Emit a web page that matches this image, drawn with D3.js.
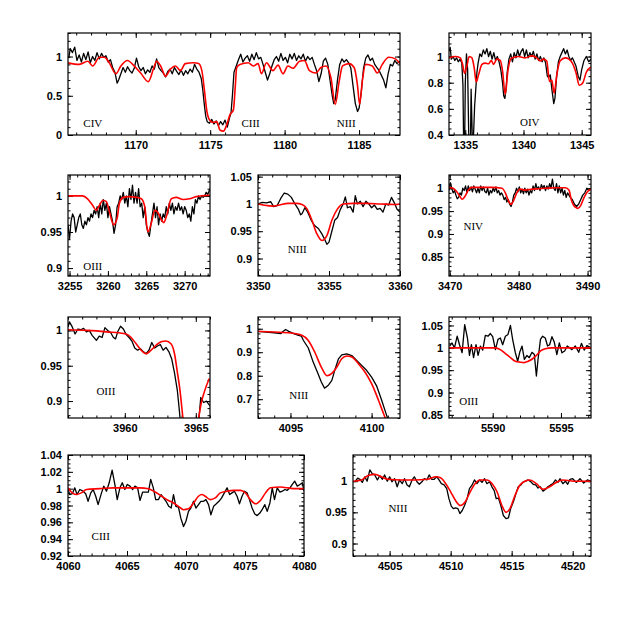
<!DOCTYPE html>
<html><head><meta charset="utf-8">
<script src="https://cdn.jsdelivr.net/npm/d3@7"></script>
<style>
html,body{margin:0;padding:0;background:#fff;}
svg{display:block;}
.tl{font-family:"Liberation Sans",Arial,sans-serif;font-size:11px;font-weight:bold;fill:#000;}
.sp{font-family:"Liberation Serif","Times New Roman",serif;font-size:11px;fill:#000;}
</style></head><body>
<svg id="c" width="623" height="623"></svg>
<script>
// ---------- DATA ----------
const obsA=[[1165.5,0.98],[1165.6,1.10],[1165.75,1.05],[1165.9,1.12],[1166.05,0.95],[1166.2,1.02],[1166.35,0.93],[1166.5,1.04],[1166.65,0.96],[1166.8,1.06],[1166.95,0.92],[1167.1,1.0],[1167.25,0.95],[1167.4,1.05],[1167.55,0.97],[1167.7,1.04],[1167.85,0.99],[1168.0,1.01],[1168.15,0.93],[1168.3,0.96],[1168.45,0.86],[1168.6,0.80],[1168.75,0.66],[1168.85,0.70],[1169.0,0.78],[1169.15,0.86],[1169.3,0.80],[1169.45,0.87],[1169.6,0.82],[1169.75,0.79],[1169.9,0.85],[1170.05,0.98],[1170.2,0.87],[1170.35,0.82],[1170.5,0.86],[1170.65,0.78],[1170.8,0.83],[1170.95,0.80],[1171.1,0.88],[1171.25,0.84],[1171.4,0.97],[1171.55,0.86],[1171.7,0.82],[1171.85,0.79],[1172.0,0.74],[1172.15,0.81],[1172.3,0.84],[1172.45,0.78],[1172.6,0.86],[1172.75,0.81],[1172.9,0.77],[1173.05,0.83],[1173.2,0.76],[1173.35,0.82],[1173.5,0.78],[1173.65,0.84],[1173.8,0.80],[1173.95,0.90],[1174.1,0.84],[1174.25,0.80],[1174.4,0.72],[1174.5,0.58],[1174.6,0.40],[1174.7,0.24],[1174.8,0.17],[1174.95,0.15],[1175.1,0.20],[1175.25,0.14],[1175.4,0.18],[1175.55,0.12],[1175.7,0.17],[1175.85,0.13],[1176.0,0.19],[1176.15,0.10],[1176.3,0.22],[1176.4,0.28],[1176.5,0.52],[1176.6,0.80],[1176.75,0.88],[1176.9,0.96],[1177.05,1.03],[1177.2,0.93],[1177.35,0.98],[1177.5,1.01],[1177.65,0.94],[1177.8,1.03],[1177.95,0.96],[1178.1,1.05],[1178.25,0.97],[1178.4,0.99],[1178.55,0.90],[1178.7,0.80],[1178.85,0.70],[1179.0,0.78],[1179.15,0.88],[1179.3,0.96],[1179.45,1.0],[1179.6,0.94],[1179.75,1.04],[1179.9,0.95],[1180.05,0.99],[1180.2,0.92],[1180.35,1.03],[1180.5,0.97],[1180.65,1.04],[1180.8,0.95],[1180.95,1.01],[1181.1,0.97],[1181.25,1.03],[1181.4,0.94],[1181.55,1.0],[1181.7,0.96],[1181.85,0.99],[1182.0,0.90],[1182.15,0.82],[1182.3,0.68],[1182.45,0.78],[1182.6,0.94],[1182.75,0.98],[1182.9,0.90],[1183.05,0.70],[1183.2,0.50],[1183.3,0.40],[1183.4,0.45],[1183.55,0.70],[1183.7,0.90],[1183.85,0.97],[1184.0,0.93],[1184.15,0.96],[1184.3,0.92],[1184.45,0.85],[1184.6,0.62],[1184.75,0.40],[1184.9,0.30],[1185.0,0.34],[1185.15,0.55],[1185.3,0.85],[1185.45,0.98],[1185.6,1.02],[1185.75,0.95],[1185.9,0.98],[1186.05,0.90],[1186.2,0.86],[1186.35,0.82],[1186.5,0.76],[1186.65,0.70],[1186.8,0.60],[1186.95,0.78],[1187.1,0.90],[1187.25,0.88],[1187.4,0.95],[1187.55,0.91],[1187.75,0.94]];
const modA=[[1165.45,0.92],[1166.22,0.90],[1166.78,0.94],[1167.11,0.88],[1167.56,0.99],[1167.89,0.99],[1168.22,0.92],[1168.67,0.78],[1169.0,0.88],[1169.44,0.95],[1169.89,0.88],[1170.33,0.79],[1170.84,0.68],[1171.22,0.86],[1171.4,0.94],[1171.67,0.88],[1172.0,0.75],[1172.33,0.84],[1172.67,0.88],[1173.0,0.82],[1173.33,0.91],[1173.89,0.92],[1174.22,0.91],[1174.44,0.82],[1174.62,0.56],[1174.78,0.30],[1174.96,0.19],[1175.2,0.16],[1175.44,0.17],[1175.67,0.06],[1175.89,0.05],[1176.11,0.13],[1176.33,0.26],[1176.56,0.32],[1176.68,0.60],[1176.78,0.86],[1177.0,0.90],[1177.56,0.92],[1177.89,0.88],[1178.22,0.91],[1178.44,0.78],[1178.78,0.92],[1179.22,0.82],[1179.56,0.89],[1179.89,0.78],[1180.22,0.88],[1180.56,0.85],[1181.0,0.94],[1181.33,0.95],[1181.67,0.82],[1182.11,0.79],[1182.44,0.86],[1182.78,0.88],[1183.11,0.73],[1183.4,0.39],[1183.67,0.69],[1183.89,0.88],[1184.33,0.91],[1184.67,0.86],[1184.89,0.64],[1185.04,0.39],[1185.22,0.69],[1185.44,0.90],[1185.89,0.88],[1186.22,0.79],[1186.56,0.90],[1187.0,0.99],[1187.44,0.97],[1187.75,0.91]];

const obsB=[[1333.6,1.04],[1333.7,1.07],[1333.8,0.98],[1333.95,1.0],[1334.1,0.97],[1334.25,0.99],[1334.4,0.96],[1334.55,0.98],[1334.7,0.95],[1334.8,0.78],[1334.85,0.38],[1334.95,0.38],[1335.0,0.8],[1335.1,1.02],[1335.2,0.9],[1335.3,0.38],[1335.45,0.38],[1335.5,0.75],[1335.6,0.38],[1335.7,0.38],[1335.8,0.62],[1335.9,0.75],[1336.0,0.88],[1336.1,0.95],[1336.25,1.02],[1336.4,1.0],[1336.55,1.05],[1336.7,1.02],[1336.85,1.06],[1337.0,1.0],[1337.15,1.04],[1337.3,0.98],[1337.45,1.03],[1337.6,0.97],[1337.75,1.0],[1337.9,0.96],[1338.05,0.9],[1338.2,0.8],[1338.3,0.7],[1338.4,0.68],[1338.5,0.75],[1338.6,0.88],[1338.75,0.98],[1338.9,1.02],[1339.05,0.96],[1339.2,1.03],[1339.35,0.99],[1339.5,1.05],[1339.65,1.0],[1339.8,1.04],[1339.95,1.06],[1340.1,1.0],[1340.25,1.05],[1340.4,0.99],[1340.55,1.03],[1340.7,1.0],[1340.85,1.04],[1341.0,0.98],[1341.15,1.02],[1341.3,0.97],[1341.45,1.0],[1341.6,0.96],[1341.75,0.99],[1341.9,0.95],[1342.05,0.85],[1342.15,0.84],[1342.3,0.86],[1342.45,0.74],[1342.6,0.64],[1342.7,0.68],[1342.85,0.85],[1343.0,0.96],[1343.15,1.0],[1343.3,1.03],[1343.45,1.06],[1343.6,1.02],[1343.75,1.05],[1343.9,1.0],[1344.05,0.97],[1344.2,0.99],[1344.35,0.96],[1344.5,0.93],[1344.7,0.85],[1344.85,0.82],[1345.0,0.9],[1345.2,0.97],[1345.4,1.0],[1345.6,0.96],[1345.8,0.98]];
const modB=[[1333.6,0.99],[1334.14,1.0],[1334.57,0.99],[1334.77,0.94],[1334.94,0.87],[1335.14,0.93],[1335.34,1.0],[1335.57,0.99],[1335.77,0.91],[1335.94,0.805],[1336.14,0.86],[1336.43,0.94],[1336.71,0.95],[1337.0,0.945],[1337.23,0.97],[1337.43,0.94],[1337.71,0.98],[1338.0,0.97],[1338.2,0.89],[1338.43,0.71],[1338.66,0.89],[1338.94,0.985],[1339.57,1.0],[1340.14,0.99],[1340.71,1.005],[1341.14,0.99],[1341.43,0.966],[1341.71,0.98],[1342.0,0.966],[1342.23,0.81],[1342.43,0.82],[1342.63,0.72],[1342.86,0.86],[1343.14,0.966],[1343.6,0.99],[1343.9,0.98],[1344.2,0.95],[1344.5,0.88],[1344.8,0.78],[1345.1,0.80],[1345.4,0.88],[1345.8,0.92]];

const obsC=[[3254.8,0.96],[3255.0,0.94],[3255.2,0.965],[3255.4,0.975],[3255.6,0.97],[3255.8,0.95],[3256.0,0.96],[3256.2,0.97],[3256.4,0.975],[3256.6,0.96],[3256.8,0.955],[3257.0,0.965],[3257.2,0.96],[3257.4,0.97],[3257.6,0.965],[3257.8,0.975],[3258.0,0.97],[3258.2,0.98],[3258.4,0.975],[3258.6,0.985],[3258.8,0.97],[3259.0,0.99],[3259.2,0.975],[3259.4,0.995],[3259.6,0.98],[3259.8,0.99],[3260.0,0.97],[3260.2,0.985],[3260.4,0.975],[3260.6,0.965],[3260.8,0.948],[3261.0,0.96],[3261.2,0.985],[3261.4,0.99],[3261.6,1.0],[3261.8,0.995],[3262.0,1.005],[3262.2,0.99],[3262.4,1.0],[3262.6,0.985],[3262.8,1.01],[3263.0,0.995],[3263.2,1.015],[3263.4,0.99],[3263.6,1.005],[3263.8,0.99],[3264.0,1.01],[3264.2,0.985],[3264.4,0.99],[3264.6,0.97],[3264.8,0.985],[3265.0,0.96],[3265.2,0.95],[3265.4,0.944],[3265.6,0.96],[3265.8,0.975],[3266.0,0.99],[3266.2,0.97],[3266.4,0.985],[3266.6,0.96],[3266.8,0.975],[3267.0,0.965],[3267.2,0.975],[3267.4,0.97],[3267.6,0.985],[3267.8,0.975],[3268.0,0.99],[3268.2,0.98],[3268.4,0.99],[3268.6,0.975],[3268.8,0.985],[3269.0,0.98],[3269.2,0.99],[3269.4,0.98],[3269.6,0.985],[3269.8,0.975],[3270.0,0.985],[3270.2,0.98],[3270.4,0.97],[3270.6,0.975],[3270.8,0.965],[3271.0,0.985],[3271.2,0.975],[3271.4,0.995],[3271.6,0.99],[3271.8,1.0],[3272.0,0.995],[3272.2,1.0],[3272.4,0.998],[3272.6,1.0],[3272.8,1.005],[3273.0,1.002],[3273.3,1.01]];
const modC=[[3254.8,1.0],[3256.7,1.0],[3257.35,0.996],[3258.0,0.987],[3258.5,0.98],[3258.9,0.987],[3259.35,0.994],[3259.8,0.992],[3260.2,0.978],[3260.74,0.96],[3261.2,0.969],[3261.5,0.99],[3262.0,0.998],[3262.8,0.999],[3263.7,0.998],[3264.35,0.996],[3264.8,0.985],[3265.2,0.95],[3265.65,0.962],[3266.1,0.98],[3266.5,0.977],[3266.96,0.967],[3267.27,0.963],[3267.6,0.971],[3268.26,0.996],[3268.9,0.998],[3269.8,0.995],[3270.65,0.996],[3271.5,0.999],[3273.3,1.001]];

const obsD=[[3350.0,1.0],[3350.3,1.003],[3350.6,1.002],[3350.9,1.004],[3351.1,0.995],[3351.35,0.997],[3351.6,1.01],[3351.85,1.02],[3352.1,1.018],[3352.35,1.012],[3352.6,1.0],[3352.85,0.99],[3353.0,0.98],[3353.1,0.982],[3353.3,0.993],[3353.5,0.985],[3353.75,0.97],[3354.0,0.96],[3354.25,0.955],[3354.5,0.945],[3354.7,0.935],[3354.85,0.926],[3355.0,0.93],[3355.2,0.95],[3355.4,0.97],[3355.6,0.975],[3355.8,0.99],[3356.0,1.0],[3356.15,1.013],[3356.3,0.993],[3356.5,0.995],[3356.7,0.985],[3356.85,1.015],[3357.0,1.0],[3357.2,1.005],[3357.4,0.995],[3357.6,1.005],[3357.8,1.0],[3358.0,0.993],[3358.2,0.998],[3358.4,0.99],[3358.6,0.992],[3358.8,0.985],[3359.0,1.0],[3359.2,0.998],[3359.4,1.012],[3359.6,1.002],[3359.8,0.99],[3360.0,0.985]];
const modD=[[3350.0,1.0],[3350.6,0.997],[3351.0,0.996],[3351.5,0.998],[3352.1,1.001],[3352.7,1.001],[3353.1,0.999],[3353.45,0.991],[3353.8,0.97],[3354.15,0.945],[3354.5,0.933],[3354.85,0.942],[3355.2,0.97],[3355.6,0.991],[3356.0,1.0],[3356.7,1.001],[3357.6,1.001],[3358.6,1.0],[3359.6,0.999],[3360.0,1.0]];

const obsE=[[3469.9,0.995],[3470.1,1.012],[3470.3,1.0],[3470.5,0.99],[3470.7,0.995],[3470.9,0.985],[3471.1,0.977],[3471.3,0.98],[3471.5,0.99],[3471.7,0.985],[3471.9,1.0],[3472.1,0.995],[3472.3,1.005],[3472.5,0.99],[3472.7,1.005],[3472.9,0.995],[3473.1,1.003],[3473.3,0.992],[3473.5,1.005],[3473.7,0.998],[3473.9,0.99],[3474.1,1.0],[3474.3,0.99],[3474.5,1.005],[3474.7,0.995],[3474.9,1.003],[3475.1,0.993],[3475.3,0.99],[3475.5,1.0],[3475.7,0.985],[3475.9,0.995],[3476.1,0.99],[3476.3,1.0],[3476.5,0.993],[3476.7,1.003],[3476.9,0.99],[3477.1,0.995],[3477.3,0.985],[3477.5,0.99],[3477.7,0.985],[3477.9,0.975],[3478.1,0.98],[3478.3,0.97],[3478.5,0.975],[3478.7,0.965],[3478.9,0.96],[3479.1,0.97],[3479.3,0.985],[3479.5,0.99],[3479.7,1.0],[3479.9,0.992],[3480.1,1.003],[3480.3,0.99],[3480.5,0.998],[3480.7,0.988],[3480.9,1.0],[3481.1,0.99],[3481.3,0.998],[3481.5,0.985],[3481.7,0.995],[3481.9,0.99],[3482.1,1.005],[3482.3,0.995],[3482.5,1.01],[3482.7,0.998],[3482.9,1.003],[3483.1,0.995],[3483.3,1.008],[3483.5,1.0],[3483.7,1.006],[3483.9,0.995],[3484.1,1.005],[3484.3,0.998],[3484.5,1.01],[3484.7,1.0],[3484.9,1.02],[3485.1,1.0],[3485.3,0.995],[3485.5,1.01],[3485.7,0.99],[3485.9,1.005],[3486.1,0.99],[3486.3,1.0],[3486.5,0.985],[3486.7,0.995],[3486.9,0.98],[3487.1,0.99],[3487.3,0.985],[3487.5,0.98],[3487.8,0.975],[3488.1,0.965],[3488.4,0.96],[3488.7,0.965],[3489.0,0.975],[3489.3,0.985],[3489.6,0.99],[3489.9,1.0],[3490.2,0.995],[3490.5,1.0]];
const modE=[[3469.9,1.002],[3470.5,1.0],[3471.0,0.993],[3471.5,0.982],[3471.8,0.976],[3472.2,0.982],[3472.7,0.996],[3473.2,1.002],[3474.6,1.002],[3476.1,1.002],[3477.6,1.0],[3478.1,0.989],[3478.5,0.974],[3478.9,0.965],[3479.3,0.974],[3479.7,0.989],[3480.2,0.998],[3480.9,0.996],[3481.95,0.998],[3482.9,0.999],[3483.9,1.0],[3485.4,1.001],[3486.8,1.001],[3487.3,0.996],[3487.66,0.974],[3488.05,0.961],[3488.3,0.958],[3488.6,0.956],[3489.0,0.962],[3489.5,0.98],[3490.0,0.993],[3490.5,0.998]];

const obsF=[[3956.0,1.005],[3956.1,1.012],[3956.3,1.005],[3956.5,0.995],[3956.7,1.002],[3956.9,1.001],[3957.1,1.003],[3957.3,0.998],[3957.5,1.0],[3957.7,0.993],[3958.0,0.986],[3958.2,0.992],[3958.4,0.99],[3958.6,1.004],[3958.8,1.0],[3959.0,0.997],[3959.2,0.99],[3959.35,0.988],[3959.5,0.998],[3959.7,1.006],[3959.9,1.002],[3960.1,0.994],[3960.3,0.99],[3960.5,0.985],[3960.7,0.975],[3960.9,0.972],[3961.1,0.974],[3961.3,0.97],[3961.5,0.967],[3961.7,0.972],[3961.9,0.983],[3962.1,0.975],[3962.3,0.978],[3962.5,0.98],[3962.7,0.972],[3962.9,0.976],[3963.1,0.97],[3963.3,0.96],[3963.5,0.94],[3963.7,0.915],[3963.85,0.885],[3964.0,0.85],[3964.2,0.82],[3964.6,0.8],[3965.0,0.83],[3965.2,0.87],[3965.35,0.905],[3965.55,0.898],[3965.75,0.9],[3966.0,0.893]];
const modF=[[3956.0,1.001],[3957.33,1.0],[3958.7,0.998],[3960.1,0.995],[3960.45,0.99],[3960.8,0.981],[3961.15,0.972],[3961.5,0.967],[3961.85,0.972],[3962.2,0.979],[3962.56,0.984],[3962.9,0.985],[3963.25,0.981],[3963.5,0.967],[3963.7,0.941],[3963.9,0.913],[3964.07,0.88],[3964.3,0.84],[3964.6,0.8],[3964.9,0.82],[3965.1,0.86],[3965.35,0.894],[3965.6,0.913],[3965.95,0.932]];

const obsG=[[4093.0,0.989],[4093.5,0.986],[4094.0,0.983],[4094.4,0.979],[4094.5,0.986],[4094.7,0.997],[4094.9,0.989],[4095.2,0.979],[4095.5,0.972],[4095.67,0.969],[4095.8,0.95],[4096.1,0.918],[4096.4,0.858],[4096.7,0.808],[4096.9,0.773],[4097.1,0.747],[4097.35,0.761],[4097.55,0.78],[4097.76,0.83],[4097.96,0.872],[4098.16,0.889],[4098.47,0.893],[4098.78,0.886],[4099.08,0.865],[4099.39,0.844],[4099.7,0.822],[4100.0,0.794],[4100.3,0.758],[4100.6,0.70],[4100.86,0.645],[4101.0,0.616],[4101.3,0.56],[4101.75,0.52]];
const modG=[[4093.0,0.989],[4094.0,0.986],[4095.0,0.982],[4095.7,0.972],[4096.1,0.95],[4096.5,0.9],[4096.9,0.837],[4097.25,0.80],[4097.55,0.81],[4097.86,0.837],[4098.16,0.872],[4098.47,0.884],[4098.78,0.88],[4099.2,0.85],[4099.6,0.815],[4100.0,0.766],[4100.4,0.70],[4100.7,0.645],[4100.86,0.616],[4101.2,0.56],[4101.75,0.5]];

const obsH=[[5586.85,1.004],[5587.02,1.011],[5587.2,1.0],[5587.4,1.026],[5587.57,1.007],[5587.76,0.989],[5587.95,1.052],[5588.15,1.022],[5588.3,0.983],[5588.44,1.007],[5588.6,0.978],[5588.78,1.007],[5588.93,0.983],[5589.1,1.004],[5589.27,0.995],[5589.46,1.028],[5589.66,1.026],[5589.83,1.032],[5590.0,1.025],[5590.2,0.996],[5590.39,1.019],[5590.56,1.022],[5590.73,1.007],[5590.93,1.026],[5591.12,1.03],[5591.3,1.05],[5591.46,1.019],[5591.66,0.989],[5591.83,0.97],[5591.98,0.99],[5592.15,1.004],[5592.32,0.974],[5592.51,0.983],[5592.68,0.978],[5592.88,0.99],[5593.05,0.985],[5593.2,0.937],[5593.32,0.974],[5593.5,1.019],[5593.66,1.026],[5593.85,1.022],[5594.02,1.004],[5594.17,1.007],[5594.34,1.025],[5594.51,1.013],[5594.7,0.985],[5594.88,1.011],[5595.07,0.989],[5595.27,0.993],[5595.46,1.004],[5595.63,1.0],[5595.8,0.996],[5596.05,1.004],[5596.3,0.99],[5596.5,1.01],[5596.7,0.995],[5596.9,1.005],[5597.2,1.0]];
const modH=[[5586.8,1.0],[5588.5,1.0],[5590.2,1.0],[5590.56,0.996],[5590.93,0.987],[5591.3,0.978],[5591.66,0.97],[5592.0,0.968],[5592.3,0.967],[5592.6,0.97],[5592.9,0.975],[5593.2,0.983],[5593.5,0.993],[5593.85,0.998],[5594.3,1.0],[5595.5,1.0],[5597.2,1.0]];

const obsI=[[4060.0,1.0],[4060.14,0.993],[4060.37,0.994],[4060.57,1.001],[4060.77,0.993],[4061.0,0.999],[4061.28,0.997],[4061.5,0.994],[4061.7,0.985],[4061.93,0.995],[4062.13,0.999],[4062.35,0.991],[4062.55,0.981],[4062.84,0.995],[4063.03,1.003],[4063.26,0.997],[4063.49,1.007],[4063.74,1.022],[4063.97,1.005],[4064.17,0.987],[4064.4,1.001],[4064.6,1.007],[4064.82,0.999],[4065.02,1.005],[4065.25,1.003],[4065.48,0.999],[4065.67,1.003],[4065.9,1.001],[4066.1,0.986],[4066.33,0.996],[4066.58,0.996],[4066.81,0.996],[4067.01,1.011],[4067.23,1.001],[4067.43,0.987],[4067.66,0.987],[4067.89,0.993],[4068.09,0.989],[4068.31,0.985],[4068.54,0.979],[4068.74,0.977],[4068.94,0.993],[4069.14,0.979],[4069.36,0.978],[4069.56,0.965],[4069.79,0.955],[4069.99,0.961],[4070.21,0.973],[4070.41,0.977],[4070.64,0.985],[4070.84,0.977],[4071.06,0.981],[4071.26,0.985],[4071.49,0.985],[4071.69,0.987],[4071.91,0.981],[4072.11,0.969],[4072.34,0.979],[4072.57,0.982],[4072.79,0.985],[4073.02,0.989],[4073.25,0.995],[4073.48,1.001],[4073.7,0.993],[4073.9,0.995],[4074.1,0.997],[4074.33,0.991],[4074.53,0.982],[4074.75,0.991],[4074.95,0.997],[4075.18,0.995],[4075.38,0.987],[4075.6,0.977],[4075.83,0.97],[4076.03,0.968],[4076.26,0.971],[4076.45,0.975],[4076.68,0.981],[4076.88,0.973],[4077.11,0.983],[4077.31,1.001],[4077.5,0.987],[4077.73,1.001],[4077.96,0.996],[4078.16,0.997],[4078.38,0.999],[4078.58,0.998],[4078.81,1.001],[4079.01,1.005],[4079.21,1.009],[4079.43,1.003],[4079.66,1.005],[4079.86,1.007],[4080.0,0.997]];
const modI=[[4060.0,1.001],[4060.28,0.996],[4060.7,0.993],[4061.13,0.995],[4061.56,0.999],[4062.7,1.0],[4063.83,1.001],[4064.97,1.001],[4066.1,1.001],[4066.81,1.0],[4067.38,0.996],[4067.94,0.991],[4068.51,0.986],[4068.94,0.983],[4069.36,0.979],[4069.79,0.975],[4070.21,0.976],[4070.64,0.983],[4071.06,0.991],[4071.35,0.993],[4071.63,0.991],[4072.06,0.987],[4072.48,0.989],[4072.91,0.995],[4073.48,0.997],[4074.04,0.998],[4074.61,0.998],[4075.04,0.995],[4075.46,0.987],[4075.89,0.982],[4076.31,0.986],[4076.74,0.995],[4077.16,1.001],[4078.01,1.002],[4078.58,1.001],[4079.29,1.0],[4080.0,1.0]];

const obsJ=[[4502.16,0.999],[4502.38,1.005],[4502.57,1.003],[4502.76,0.998],[4502.97,1.007],[4503.16,1.0],[4503.38,1.018],[4503.57,1.012],[4503.78,1.01],[4504.0,1.002],[4504.19,1.009],[4504.41,1.003],[4504.59,1.01],[4504.81,1.0],[4505.0,1.007],[4505.19,0.999],[4505.41,1.004],[4505.62,0.991],[4505.81,1.002],[4506.03,0.996],[4506.22,1.004],[4506.43,0.994],[4506.62,0.991],[4506.84,1.002],[4507.03,1.007],[4507.24,0.999],[4507.43,0.995],[4507.65,0.999],[4507.84,1.004],[4508.05,1.002],[4508.24,1.01],[4508.46,1.003],[4508.65,1.003],[4508.86,1.007],[4509.05,1.002],[4509.24,0.996],[4509.46,0.994],[4509.68,0.988],[4509.86,0.972],[4510.05,0.96],[4510.22,0.956],[4510.41,0.957],[4510.59,0.956],[4510.76,0.948],[4510.95,0.953],[4511.14,0.961],[4511.35,0.972],[4511.54,0.988],[4511.76,0.994],[4511.95,1.002],[4512.16,0.996],[4512.38,1.002],[4512.57,0.998],[4512.78,1.004],[4512.97,0.996],[4513.19,0.999],[4513.38,0.991],[4513.57,0.985],[4513.73,0.972],[4513.92,0.973],[4514.11,0.961],[4514.32,0.945],[4514.54,0.94],[4514.73,0.941],[4514.92,0.956],[4515.14,0.967],[4515.35,0.98],[4515.54,0.991],[4515.76,0.994],[4515.95,0.999],[4516.16,1.0],[4516.35,1.002],[4516.57,0.999],[4516.76,0.995],[4516.97,0.994],[4517.16,0.989],[4517.35,0.991],[4517.57,0.984],[4517.78,0.987],[4517.97,0.991],[4518.19,0.994],[4518.38,0.996],[4518.59,1.002],[4518.78,0.998],[4518.97,1.004],[4519.19,0.996],[4519.41,1.0],[4519.59,0.995],[4519.78,1.003],[4520.0,1.004],[4520.3,0.998],[4520.6,1.004],[4520.9,0.997],[4521.2,1.002],[4521.5,1.0]];
const modJ=[[4502.0,1.0],[4502.7,1.002],[4503.24,1.009],[4503.8,1.011],[4504.32,1.007],[4504.86,1.003],[4505.95,1.002],[4507.0,1.002],[4508.1,1.003],[4508.8,1.007],[4509.2,1.005],[4509.6,0.996],[4510.0,0.983],[4510.4,0.969],[4510.8,0.961],[4511.2,0.967],[4511.6,0.983],[4512.0,0.996],[4512.4,1.002],[4512.97,1.002],[4513.4,0.996],[4513.8,0.983],[4514.2,0.961],[4514.54,0.95],[4514.86,0.956],[4515.27,0.977],[4515.68,0.994],[4516.08,1.0],[4516.5,1.002],[4517.03,0.996],[4517.57,0.987],[4518.11,0.991],[4518.65,0.998],[4519.19,1.002],[4520.1,1.0],[4521.5,1.0]];

// tick label values
const xTicksA=[1170,1175,1180,1185], yTicksA=[0,0.5,1];
const xTicksB=[1335,1340,1345], yTicksB=[0.4,0.6,0.8,1];
const xTicksC=[3255,3260,3265,3270], yTicksC=[0.9,0.95,1];
const xTicksD=[3350,3355,3360], yTicksD=[0.9,0.95,1,1.05];
const xTicksE=[3470,3480,3490], yTicksE=[0.85,0.9,0.95,1];
const xTicksF=[3960,3965], yTicksF=[0.9,0.95,1];
const xTicksG=[4095,4100], yTicksG=[0.7,0.8,0.9,1];
const xTicksH=[5590,5595], yTicksH=[0.85,0.9,0.95,1,1.05];
const xTicksI=[4060,4065,4070,4075,4080], yTicksI=[0.92,0.94,0.96,0.98,1,1.02,1.04];
const xTicksJ=[4505,4510,4515,4520], yTicksJ=[0.9,0.95,1];

// ion labels
const ionsA=[["CIV",1166.48,0.1],["CIII",1177.1,0.1],["NIII",1183.5,0.1]];
const ionsB=[["OIV",1339.7,0.47]];
const ionsC=[["OIII",3256.8,0.897]];
const ionsD=[["NIII",3352.1,0.91]];
const ionsE=[["NIV",3472.0,0.909]];
const ionsF=[["OIII",3958.0,0.908]];
const ionsG=[["NIII",4094.93,0.70]];
const ionsH=[["OIII",5587.55,0.871]];
const ionsI=[["CIII",4062.0,0.939]];
const ionsJ=[["NIII",4504.9,0.95]];

// ---------- LAYOUT ----------
const panels=[
 {r:[68,33,400,135], xd:[1165.45,1187.75], yd:[0,1.3], xt:xTicksA, xm:1, yt:yTicksA, ym:0.1, obs:obsA, mod:modA, ions:ionsA},
 {r:[449,33,591,135], xd:[1333.6,1345.8], yd:[0.4,1.18], xt:xTicksB, xm:1, yt:yTicksB, ym:0.05, obs:obsB, mod:modB, ions:ionsB},
 {r:[68,175,210,276], xd:[3254.8,3273.3], yd:[0.889,1.029], xt:xTicksC, xm:1, yt:yTicksC, ym:0.01, obs:obsC, mod:modC, ions:ionsC},
 {r:[258,175,400,276], xd:[3350,3360], yd:[0.868,1.053], xt:xTicksD, xm:1, yt:yTicksD, ym:0.01, obs:obsD, mod:modD, ions:ionsD},
 {r:[449,175,591,276], xd:[3469.9,3490.5], yd:[0.808,1.029], xt:xTicksE, xm:2, yt:yTicksE, ym:0.01, obs:obsE, mod:modE, ions:ionsE},
 {r:[68,317,210,418], xd:[3956,3966], yd:[0.876,1.019], xt:xTicksF, xm:1, yt:yTicksF, ym:0.01, obs:obsF, mod:modF, ions:ionsF},
 {r:[258,317,400,418], xd:[4093,4101.75], yd:[0.62,1.05], xt:xTicksG, xm:1, yt:yTicksG, ym:0.02, obs:obsG, mod:modG, ions:ionsG},
 {r:[449,317,591,418], xd:[5586.8,5597.2], yd:[0.843,1.069], xt:xTicksH, xm:1, yt:yTicksH, ym:0.01, obs:obsH, mod:modH, ions:ionsH},
 {r:[68,455,304,556], xd:[4060,4080], yd:[0.92,1.04], xt:xTicksI, xm:1, yt:yTicksI, ym:0.005, obs:obsI, mod:modI, ions:ionsI},
 {r:[353,455,591,556], xd:[4502,4521.5], yd:[0.88,1.042], xt:xTicksJ, xm:1, yt:yTicksJ, ym:0.01, obs:obsJ, mod:modJ, ions:ionsJ}
];

const svg=d3.select("#c");
svg.append("rect").attr("width",623).attr("height",623).attr("fill","#fff");
const fmt=d=>String(+d.toFixed(3));
const MAJ=5, MIN=2.5;

function minors(dom,step){
  const a=Math.ceil(dom[0]/step-1e-9), b=Math.floor(dom[1]/step+1e-9);
  return d3.range(a,b+1).map(i=>+(i*step).toFixed(6));
}

panels.forEach((p,i)=>{
  const [x0,y0,x1,y1]=p.r;
  const x=d3.scaleLinear().domain(p.xd).range([x0,x1]);
  const y=d3.scaleLinear().domain(p.yd).range([y1,y0]);
  const g=svg.append("g");
  const cid="clip"+i;
  svg.append("clipPath").attr("id",cid).append("rect").attr("x",x0).attr("y",y0).attr("width",x1-x0).attr("height",y1-y0);

  const xmin=minors(p.xd,p.xm), ymin=minors(p.yd,p.ym);
  const addAxis=(gen,tr,cls)=>{
    const a=g.append("g").attr("transform",tr).call(gen);
    a.select(".domain").remove();
    a.selectAll("line").attr("stroke","#000").attr("stroke-width",1);
    return a;
  };
  // minor ticks
  addAxis(d3.axisBottom(x).tickValues(xmin).tickSize(-MIN).tickFormat(""),`translate(0,${y1})`);
  addAxis(d3.axisTop(x).tickValues(xmin).tickSize(-MIN).tickFormat(""),`translate(0,${y0})`);
  addAxis(d3.axisLeft(y).tickValues(ymin).tickSize(-MIN).tickFormat(""),`translate(${x0},0)`);
  addAxis(d3.axisRight(y).tickValues(ymin).tickSize(-MIN).tickFormat(""),`translate(${x1},0)`);
  // major ticks
  const bx=addAxis(d3.axisBottom(x).tickValues(p.xt).tickSize(-MAJ).tickPadding(6).tickFormat(fmt),`translate(0,${y1})`);
  addAxis(d3.axisTop(x).tickValues(p.xt).tickSize(-MAJ).tickFormat(""),`translate(0,${y0})`);
  const ly=addAxis(d3.axisLeft(y).tickValues(p.yt).tickSize(-MAJ).tickPadding(6).tickFormat(fmt),`translate(${x0},0)`);
  addAxis(d3.axisRight(y).tickValues(p.yt).tickSize(-MAJ).tickFormat(""),`translate(${x1},0)`);
  bx.selectAll("text").attr("class","tl").attr("font-family",null).attr("font-size",null);
  ly.selectAll("text").attr("class","tl").attr("font-family",null).attr("font-size",null);
  bx.attr("font-family",null).attr("font-size",null);
  ly.attr("font-family",null).attr("font-size",null);

  const cg=g.append("g").attr("clip-path",`url(#${cid})`);
  cg.append("path").datum(p.obs).attr("fill","none").attr("stroke","#000").attr("stroke-width",1.3).attr("stroke-linejoin","round")
    .attr("d",d3.line().x(d=>x(d[0])).y(d=>y(d[1])));
  cg.append("path").datum(p.mod).attr("fill","none").attr("stroke","#ff0000").attr("stroke-width",1.6).attr("stroke-linejoin","round")
    .attr("d",d3.line().curve(d3.curveMonotoneX).x(d=>x(d[0])).y(d=>y(d[1])));

  g.append("rect").attr("x",x0).attr("y",y0).attr("width",x1-x0).attr("height",y1-y0)
    .attr("fill","none").attr("stroke","#000").attr("stroke-width",1.2);

  p.ions.forEach(t=>{
    g.append("text").attr("class","sp").attr("x",x(t[1])).attr("y",y(t[2])).text(t[0]);
  });
});
</script>
</body></html>
